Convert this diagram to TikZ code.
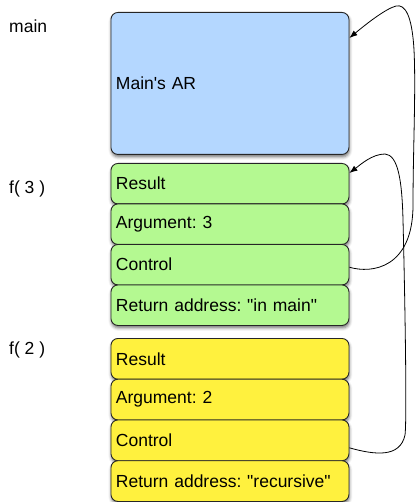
\documentclass[tikz,border=0pt]{standalone}
\usepackage{fontspec}
\setmainfont{Liberation Sans}[Ligatures=TeXOff]
\usetikzlibrary{shadows.blur,arrows.meta}
\definecolor{arblue}{RGB}{180,215,255}
\definecolor{argreen}{RGB}{180,249,145}
\definecolor{aryellow}{RGB}{255,241,62}
\frenchspacing
\begin{document}
\begin{tikzpicture}[x=1pt,y=-1pt,
  font=\fontsize{17.5}{20}\selectfont,
  frame/.style={draw=black!85, line width=0.9pt, rounded corners=7pt,
    anchor=north west, minimum width=238pt, text width=228pt,
    inner xsep=5pt, inner ysep=0pt, align=left,
    blur shadow={shadow xshift=0.5pt, shadow yshift=-2.5pt,
      shadow blur radius=3pt, shadow opacity=55}},
  gslot/.style={frame, fill=argreen, minimum height=40.5pt},
  yslot/.style={frame, fill=aryellow, minimum height=40.75pt},
  tag/.style={anchor=west, inner sep=0pt},
  link/.style={line width=0.8pt, -{Latex[length=8pt,width=6pt]}}]
\useasboundingbox (0,0) rectangle (415,502);

% frame labels
\node[tag] (lmain) at (9,26) {main};
\node[tag] (lf3) at (9,189) {f( 3 )};
\node[tag] (lf2) at (9,350) {f( 2 )};

% activation record of main
\node[frame, fill=arblue, minimum height=142pt] (mar) at (110.5,12) {Main's AR};

% activation record of f(3)
\node[gslot] (res3) at (110.5,163)   {Result};
\node[gslot] (arg3) at (110.5,203.5) {Argument: 3};
\node[gslot] (ctl3) at (110.5,244)   {Control};
\node[gslot] (ret3) at (110.5,284.5) {Return address: "in main"};

% activation record of f(2)
\node[yslot] (res2) at (110.5,338)    {Result};
\node[yslot] (arg2) at (110.5,378.75) {Argument: 2};
\node[yslot] (ctl2) at (110.5,419.5)  {Control};
\node[yslot] (ret2) at (110.5,460.25) {Return address: "recursive"};

% control links
\draw[link] ([yshift=-2.5pt]ctl3.east)
  .. controls (372,274) and (413,268) .. (413,205)
  .. controls (413,150) and (416,90) .. (414,50)
  .. controls (412,15) and (405,4) .. (396,6)
  .. controls (385,9) and (365,25) .. ([yshift=-26pt]mar.north east);

\draw[link] ([yshift=-7.5pt]ctl2.east)
  .. controls (375,455) and (400,458) .. (405,435)
  .. controls (407,420) and (405,300) .. (403,220)
  .. controls (402,180) and (398,155) .. (385,154)
  .. controls (372,154) and (360,165) .. ([yshift=-10pt]res3.north east);
\end{tikzpicture}
\end{document}
